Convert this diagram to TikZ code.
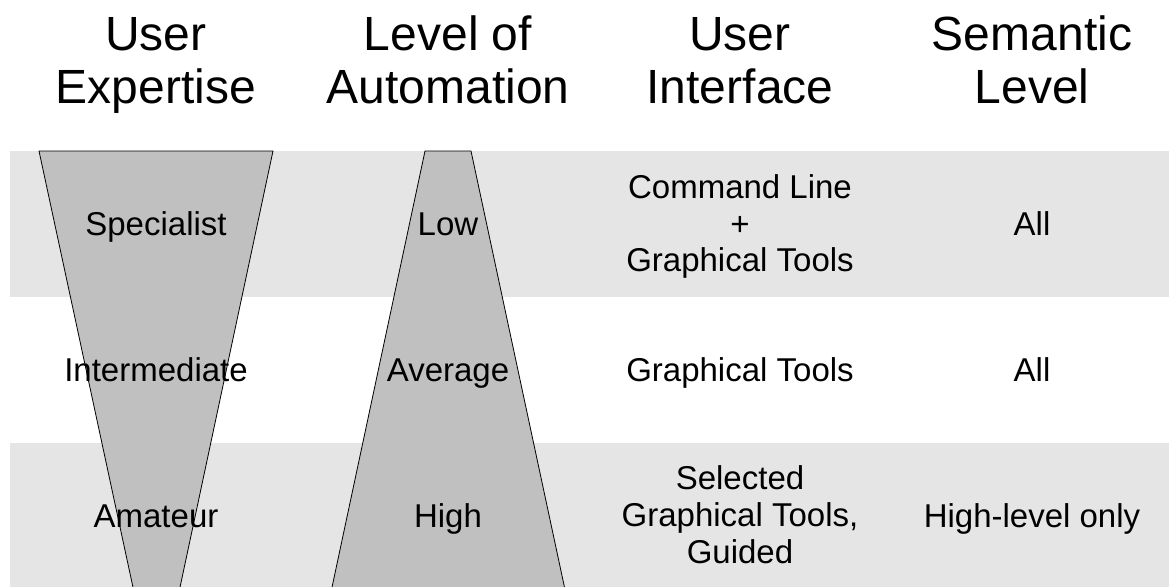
\documentclass[tikz,border=0pt]{standalone}
\usepackage{fontspec}
\setmainfont{Liberation Sans}
\definecolor{bandgray}{RGB}{229,229,229}
\definecolor{funnelgray}{RGB}{192,192,192}
\begin{document}
\begin{tikzpicture}[x=1pt,y=-1pt,
  band/.style={fill=bandgray,draw=none},
  funnel/.style={fill=funnelgray,draw=black,line width=0.8pt,line join=miter},
  head/.style={font=\fontsize{48}{53}\selectfont,align=center,inner sep=0pt,anchor=base},
  cell/.style={font=\fontsize{33}{36.7}\selectfont,align=center,inner sep=0pt,anchor=base}]
\useasboundingbox (0,0) rectangle (1169,586);
\clip (0,0) rectangle (1169,586);
% bands
\fill[band] (10,151) rectangle (1169,297);
\fill[band] (10,443) rectangle (1169,589);
% funnels
\draw[funnel] (39,151) -- (273,151) -- (179,592) -- (134,592) -- cycle;
\draw[funnel] (425,151) -- (471,151) -- (565.5,592) -- (331,592) -- cycle;
% headers (base = baseline of last line)
\node[head] (h1) at (156,103) {User\\Expertise};
\node[head] (h2) at (448,103) {Level of\\Automation};
\node[head] (h3) at (740,103) {User\\Interface};
\node[head] (h4) at (1032,103) {Semantic\\Level};
% row 1
\node[cell] (e1) at (156,235) {Specialist};
\node[cell] (a1) at (448,235) {Low};
\node[cell] (u1) at (740,271.7) {Command Line\\+\\Graphical Tools};
\node[cell] (s1) at (1032,235) {All};
% row 2
\node[cell] (e2) at (156,381) {Intermediate};
\node[cell] (a2) at (448,381) {Average};
\node[cell] (u2) at (740,381) {Graphical Tools};
\node[cell] (s2) at (1032,381) {All};
% row 3
\node[cell] (e3) at (156,527) {Amateur};
\node[cell] (a3) at (448,527) {High};
\node[cell] (u3) at (740,563) {Selected\\Graphical Tools,\\Guided};
\node[cell] (s3) at (1032,527) {High-level only};
\end{tikzpicture}
\end{document}
